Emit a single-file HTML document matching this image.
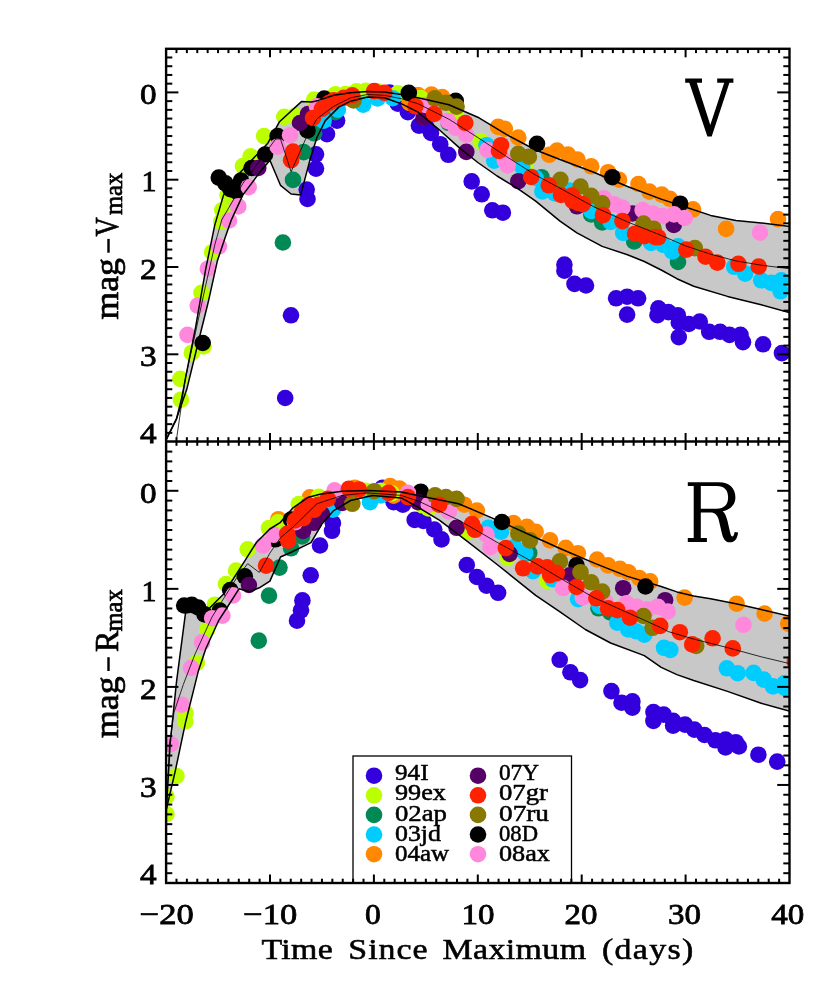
<!DOCTYPE html>
<html><head><meta charset="utf-8"><title>Light curves</title>
<style>
html,body{margin:0;padding:0;background:#fff;}
body{width:830px;height:982px;overflow:hidden;font-family:"Liberation Serif",serif;}
svg text{font-family:"Liberation Serif",serif;fill:#000;}
svg text.t{stroke:#000;stroke-width:0.5px;}
svg text.t2{stroke:#000;stroke-width:0.55px;}
svg text.n{stroke:#000;stroke-width:0.8px;}
svg text.b{stroke:#000;stroke-width:0.7px;}
</style></head><body>
<svg width="830" height="982" viewBox="0 0 830 982" style="display:block;will-change:transform">
<rect width="830" height="982" fill="#fff"/>
<defs><clipPath id="cV"><rect x="166.1" y="48.8" width="623.4" height="392.7"/></clipPath><clipPath id="cR"><rect x="166.1" y="441.5" width="623.4" height="441.5"/></clipPath></defs>
<g clip-path="url(#cV)">
<polygon points="166.4,439.2 176.5,418.8 181.6,398.5 188.0,365.4 195.6,327.2 205.8,268.7 214.7,225.4 223.6,194.9 237.1,175.7 268.0,142.9 279.5,121.7 301.7,101.4 311.8,102.0 318.5,100.4 333.7,95.3 350.6,92.8 367.5,91.6 384.3,91.9 401.2,94.5 418.0,97.8 448.9,104.7 477.8,117.2 506.7,134.6 535.7,150.0 560.0,159.5 593.7,172.2 627.5,186.5 661.2,199.1 685.3,207.0 710.6,215.4 735.9,220.5 761.2,223.0 790.0,226.6 790.0,312.8 761.2,304.8 727.5,296.4 693.7,286.2 676.9,278.7 661.2,270.0 644.3,261.5 627.5,254.8 602.2,246.4 576.9,232.9 560.0,221.1 535.7,201.1 516.4,187.6 497.1,176.0 477.8,162.5 458.6,147.1 439.3,129.8 418.0,112.2 401.2,103.7 384.3,97.8 367.5,97.0 350.6,101.2 338.8,107.1 325.3,120.6 316.9,137.5 310.1,159.4 300.7,194.9 291.1,194.0 280.5,185.3 269.9,160.2 260.2,171.8 242.9,194.9 231.3,220.0 224.9,238.2 217.3,261.1 208.3,301.8 198.2,342.5 186.7,389.6 179.1,411.2 176.5,418.8 166.4,439.2" fill="#C8C8C8"/>
<g fill="#3300DD">
<circle cx="306.7" cy="189.5" r="8.3"/>
<circle cx="307.5" cy="199.0" r="8.3"/>
<circle cx="316.0" cy="168.6" r="8.3"/>
<circle cx="316.0" cy="154.3" r="8.3"/>
<circle cx="327.0" cy="134.1" r="8.3"/>
<circle cx="337.1" cy="120.6" r="8.3"/>
<circle cx="291.0" cy="315.3" r="8.3"/>
<circle cx="285.2" cy="398.0" r="8.3"/>
<circle cx="389.4" cy="92.6" r="8.3"/>
<circle cx="397.8" cy="103.7" r="8.3"/>
<circle cx="407.9" cy="112.2" r="8.3"/>
<circle cx="418.9" cy="125.6" r="8.3"/>
<circle cx="425.8" cy="126.0" r="8.3"/>
<circle cx="431.0" cy="133.0" r="8.3"/>
<circle cx="440.2" cy="144.2" r="8.3"/>
<circle cx="448.3" cy="154.8" r="8.3"/>
<circle cx="471.7" cy="181.4" r="8.3"/>
<circle cx="481.7" cy="194.3" r="8.3"/>
<circle cx="492.3" cy="210.3" r="8.3"/>
<circle cx="502.9" cy="212.7" r="8.3"/>
<circle cx="564.4" cy="264.5" r="8.3"/>
<circle cx="564.4" cy="270.7" r="8.3"/>
<circle cx="574.5" cy="283.9" r="8.3"/>
<circle cx="586.0" cy="285.5" r="8.3"/>
<circle cx="616.1" cy="298.3" r="8.3"/>
<circle cx="627.1" cy="296.7" r="8.3"/>
<circle cx="638.1" cy="298.3" r="8.3"/>
<circle cx="627.1" cy="314.6" r="8.3"/>
<circle cx="658.4" cy="308.3" r="8.3"/>
<circle cx="657.5" cy="315.2" r="8.3"/>
<circle cx="668.4" cy="312.1" r="8.3"/>
<circle cx="677.8" cy="315.2" r="8.3"/>
<circle cx="678.8" cy="322.4" r="8.3"/>
<circle cx="688.8" cy="324.0" r="8.3"/>
<circle cx="699.8" cy="321.5" r="8.3"/>
<circle cx="678.8" cy="337.1" r="8.3"/>
<circle cx="709.2" cy="331.8" r="8.3"/>
<circle cx="720.1" cy="331.8" r="8.3"/>
<circle cx="729.5" cy="334.9" r="8.3"/>
<circle cx="740.5" cy="334.9" r="8.3"/>
<circle cx="743.0" cy="342.2" r="8.3"/>
<circle cx="763.1" cy="344.3" r="8.3"/>
<circle cx="781.9" cy="353.1" r="8.3"/>
</g>
<g fill="#FF8800">
<circle cx="418.0" cy="95.1" r="8.3"/>
<circle cx="431.5" cy="94.5" r="8.3"/>
<circle cx="442.2" cy="97.0" r="8.3"/>
<circle cx="409.5" cy="103.0" r="8.3"/>
<circle cx="498.1" cy="126.9" r="8.3"/>
<circle cx="504.8" cy="128.8" r="8.3"/>
<circle cx="518.3" cy="137.5" r="8.3"/>
<circle cx="549.2" cy="154.8" r="8.3"/>
<circle cx="557.0" cy="150.5" r="8.3"/>
<circle cx="568.0" cy="154.6" r="8.3"/>
<circle cx="577.5" cy="159.5" r="8.3"/>
<circle cx="591.2" cy="166.3" r="8.3"/>
<circle cx="608.1" cy="172.2" r="8.3"/>
<circle cx="619.0" cy="179.7" r="8.3"/>
<circle cx="638.4" cy="184.0" r="8.3"/>
<circle cx="649.4" cy="191.6" r="8.3"/>
<circle cx="661.8" cy="194.6" r="8.3"/>
<circle cx="669.9" cy="198.8" r="8.3"/>
<circle cx="693.0" cy="209.4" r="8.3"/>
<circle cx="726.1" cy="228.9" r="8.3"/>
<circle cx="778.0" cy="219.1" r="8.3"/>
</g>
<g fill="#BBFF00">
<circle cx="203.5" cy="346.5" r="8.3"/>
<circle cx="180.9" cy="399.7" r="8.3"/>
<circle cx="180.4" cy="378.9" r="8.3"/>
<circle cx="191.8" cy="352.7" r="8.3"/>
<circle cx="201.5" cy="292.9" r="8.3"/>
<circle cx="212.2" cy="252.2" r="8.3"/>
<circle cx="221.1" cy="221.6" r="8.3"/>
<circle cx="222.3" cy="210.2" r="8.3"/>
<circle cx="227.5" cy="195.0" r="8.3"/>
<circle cx="242.9" cy="166.0" r="8.3"/>
<circle cx="250.6" cy="156.4" r="8.3"/>
<circle cx="264.1" cy="136.1" r="8.3"/>
<circle cx="284.3" cy="116.9" r="8.3"/>
<circle cx="294.9" cy="115.9" r="8.3"/>
<circle cx="314.2" cy="99.5" r="8.3"/>
<circle cx="335.4" cy="94.3" r="8.3"/>
<circle cx="345.5" cy="94.0" r="8.3"/>
<circle cx="356.5" cy="91.4" r="8.3"/>
<circle cx="365.8" cy="90.9" r="8.3"/>
<circle cx="377.6" cy="91.4" r="8.3"/>
<circle cx="397.8" cy="93.4" r="8.3"/>
<circle cx="420.6" cy="98.0" r="8.3"/>
<circle cx="455.7" cy="114.3" r="8.3"/>
<circle cx="480.7" cy="141.3" r="8.3"/>
<circle cx="524.8" cy="166.5" r="8.3"/>
</g>
<g fill="#008855">
<circle cx="282.9" cy="242.5" r="8.3"/>
<circle cx="293.0" cy="179.9" r="8.3"/>
<circle cx="303.6" cy="152.1" r="8.3"/>
<circle cx="314.2" cy="133.3" r="8.3"/>
<circle cx="335.4" cy="112.2" r="8.3"/>
<circle cx="448.5" cy="122.8" r="8.3"/>
<circle cx="541.5" cy="177.2" r="8.3"/>
<circle cx="591.2" cy="214.5" r="8.3"/>
<circle cx="602.2" cy="222.5" r="8.3"/>
<circle cx="634.2" cy="241.5" r="8.3"/>
<circle cx="678.0" cy="262.0" r="8.3"/>
</g>
<g fill="#00CCFF">
<circle cx="323.6" cy="120.6" r="8.3"/>
<circle cx="337.9" cy="109.6" r="8.3"/>
<circle cx="363.2" cy="104.6" r="8.3"/>
<circle cx="377.6" cy="98.5" r="8.3"/>
<circle cx="392.7" cy="98.2" r="8.3"/>
<circle cx="486.5" cy="145.2" r="8.3"/>
<circle cx="494.2" cy="160.6" r="8.3"/>
<circle cx="522.2" cy="166.4" r="8.3"/>
<circle cx="535.7" cy="178.0" r="8.3"/>
<circle cx="542.4" cy="191.4" r="8.3"/>
<circle cx="554.9" cy="193.4" r="8.3"/>
<circle cx="569.4" cy="190.5" r="8.3"/>
<circle cx="591.2" cy="210.9" r="8.3"/>
<circle cx="610.6" cy="221.9" r="8.3"/>
<circle cx="623.2" cy="232.9" r="8.3"/>
<circle cx="651.1" cy="243.0" r="8.3"/>
<circle cx="663.2" cy="244.8" r="8.3"/>
<circle cx="672.3" cy="251.5" r="8.3"/>
<circle cx="678.0" cy="246.4" r="8.3"/>
<circle cx="734.2" cy="266.8" r="8.3"/>
<circle cx="745.2" cy="273.6" r="8.3"/>
<circle cx="761.2" cy="280.3" r="8.3"/>
<circle cx="771.3" cy="282.9" r="8.3"/>
<circle cx="781.4" cy="280.3" r="8.3"/>
<circle cx="780.6" cy="291.3" r="8.3"/>
</g>
<g fill="#000000">
<circle cx="218.8" cy="177.6" r="8.3"/>
<circle cx="225.5" cy="183.4" r="8.3"/>
<circle cx="230.4" cy="189.2" r="8.3"/>
<circle cx="236.1" cy="191.1" r="8.3"/>
<circle cx="241.0" cy="180.5" r="8.3"/>
<circle cx="251.6" cy="168.0" r="8.3"/>
<circle cx="265.0" cy="154.5" r="8.3"/>
<circle cx="277.6" cy="136.1" r="8.3"/>
<circle cx="307.5" cy="130.4" r="8.3"/>
<circle cx="324.3" cy="98.5" r="8.3"/>
<circle cx="408.8" cy="92.8" r="8.3"/>
<circle cx="455.7" cy="100.9" r="8.3"/>
<circle cx="537.0" cy="143.8" r="8.3"/>
<circle cx="612.3" cy="177.2" r="8.3"/>
<circle cx="680.2" cy="203.7" r="8.3"/>
<circle cx="202.7" cy="343.0" r="8.3"/>
</g>
<g fill="#550066">
<circle cx="258.3" cy="168.0" r="8.3"/>
<circle cx="300.0" cy="123.0" r="8.3"/>
<circle cx="308.0" cy="114.0" r="8.3"/>
<circle cx="423.5" cy="118.0" r="8.3"/>
<circle cx="466.3" cy="151.9" r="8.3"/>
<circle cx="518.3" cy="181.2" r="8.3"/>
<circle cx="577.0" cy="206.3" r="8.3"/>
<circle cx="632.5" cy="213.5" r="8.3"/>
<circle cx="673.8" cy="225.0" r="8.3"/>
</g>
<g fill="#FF88DD">
<circle cx="187.5" cy="334.9" r="8.3"/>
<circle cx="197.7" cy="305.6" r="8.3"/>
<circle cx="207.8" cy="268.7" r="8.3"/>
<circle cx="219.0" cy="246.3" r="8.3"/>
<circle cx="229.0" cy="220.5" r="8.3"/>
<circle cx="238.3" cy="206.4" r="8.3"/>
<circle cx="248.7" cy="187.2" r="8.3"/>
<circle cx="277.6" cy="146.7" r="8.3"/>
<circle cx="290.1" cy="135.2" r="8.3"/>
<circle cx="316.9" cy="106.3" r="8.3"/>
<circle cx="425.3" cy="105.0" r="8.3"/>
<circle cx="448.0" cy="121.1" r="8.3"/>
<circle cx="455.7" cy="127.8" r="8.3"/>
<circle cx="466.3" cy="134.6" r="8.3"/>
<circle cx="487.5" cy="150.0" r="8.3"/>
<circle cx="504.8" cy="160.6" r="8.3"/>
<circle cx="507.7" cy="165.4" r="8.3"/>
<circle cx="603.8" cy="198.3" r="8.3"/>
<circle cx="614.0" cy="204.2" r="8.3"/>
<circle cx="622.4" cy="207.6" r="8.3"/>
<circle cx="642.6" cy="210.1" r="8.3"/>
<circle cx="652.7" cy="213.5" r="8.3"/>
<circle cx="662.7" cy="216.1" r="8.3"/>
<circle cx="674.0" cy="214.4" r="8.3"/>
<circle cx="684.7" cy="218.0" r="8.3"/>
<circle cx="760.0" cy="232.6" r="8.3"/>
</g>
<g fill="#887700">
<circle cx="353.5" cy="100.5" r="8.3"/>
<circle cx="434.8" cy="98.3" r="8.3"/>
<circle cx="446.0" cy="102.8" r="8.3"/>
<circle cx="456.6" cy="106.6" r="8.3"/>
<circle cx="518.3" cy="153.9" r="8.3"/>
<circle cx="528.9" cy="156.7" r="8.3"/>
<circle cx="560.4" cy="179.8" r="8.3"/>
<circle cx="580.5" cy="186.5" r="8.3"/>
<circle cx="591.2" cy="195.8" r="8.3"/>
<circle cx="602.2" cy="203.4" r="8.3"/>
<circle cx="643.5" cy="223.6" r="8.3"/>
<circle cx="653.6" cy="228.7" r="8.3"/>
<circle cx="694.8" cy="248.1" r="8.3"/>
</g>
<g fill="#FF2200">
<circle cx="293.0" cy="151.6" r="8.3"/>
<circle cx="291.1" cy="160.2" r="8.3"/>
<circle cx="313.0" cy="118.0" r="8.3"/>
<circle cx="321.9" cy="108.8" r="8.3"/>
<circle cx="329.0" cy="103.0" r="8.3"/>
<circle cx="333.7" cy="100.4" r="8.3"/>
<circle cx="343.8" cy="97.8" r="8.3"/>
<circle cx="352.3" cy="95.3" r="8.3"/>
<circle cx="374.2" cy="91.1" r="8.3"/>
<circle cx="384.3" cy="92.8" r="8.3"/>
<circle cx="415.5" cy="106.3" r="8.3"/>
<circle cx="434.2" cy="114.0" r="8.3"/>
<circle cx="465.3" cy="123.0" r="8.3"/>
<circle cx="501.0" cy="145.2" r="8.3"/>
<circle cx="499.0" cy="151.0" r="8.3"/>
<circle cx="531.2" cy="177.0" r="8.3"/>
<circle cx="548.8" cy="185.3" r="8.3"/>
<circle cx="561.0" cy="195.0" r="8.3"/>
<circle cx="572.0" cy="195.5" r="8.3"/>
<circle cx="572.6" cy="200.8" r="8.3"/>
<circle cx="578.1" cy="203.0" r="8.3"/>
<circle cx="582.8" cy="204.2" r="8.3"/>
<circle cx="603.0" cy="215.2" r="8.3"/>
<circle cx="622.4" cy="221.1" r="8.3"/>
<circle cx="635.0" cy="233.7" r="8.3"/>
<circle cx="644.3" cy="236.2" r="8.3"/>
<circle cx="655.3" cy="237.1" r="8.3"/>
<circle cx="658.3" cy="237.3" r="8.3"/>
<circle cx="686.3" cy="249.6" r="8.3"/>
<circle cx="705.5" cy="256.7" r="8.3"/>
<circle cx="717.3" cy="262.6" r="8.3"/>
<circle cx="738.4" cy="263.8" r="8.3"/>
<circle cx="758.7" cy="266.5" r="8.3"/>
</g>
<polyline points="166.4,439.2 176.5,418.8 181.6,398.5 188.0,365.4 195.6,327.2 205.8,268.7 214.7,225.4 223.6,194.9 237.1,175.7 268.0,142.9 279.5,121.7 301.7,101.4 311.8,102.0 318.5,100.4 333.7,95.3 350.6,92.8 367.5,91.6 384.3,91.9 401.2,94.5 418.0,97.8 448.9,104.7 477.8,117.2 506.7,134.6 535.7,150.0 560.0,159.5 593.7,172.2 627.5,186.5 661.2,199.1 685.3,207.0 710.6,215.4 735.9,220.5 761.2,223.0 790.0,226.6" fill="none" stroke="#000" stroke-width="1.5" stroke-linejoin="round"/>
<polyline points="166.4,439.2 176.5,418.8 179.1,411.2 186.7,389.6 198.2,342.5 208.3,301.8 217.3,261.1 224.9,238.2 231.3,220.0 242.9,194.9 260.2,171.8 269.9,160.2 280.5,185.3 291.1,194.0 300.7,194.9 310.1,159.4 316.9,137.5 325.3,120.6 338.8,107.1 350.6,101.2 367.5,97.0 384.3,97.8 401.2,103.7 418.0,112.2 439.3,129.8 458.6,147.1 477.8,162.5 497.1,176.0 516.4,187.6 535.7,201.1 560.0,221.1 576.9,232.9 602.2,246.4 627.5,254.8 644.3,261.5 661.2,270.0 676.9,278.7 693.7,286.2 727.5,296.4 761.2,304.8 790.0,312.8" fill="none" stroke="#000" stroke-width="1.5" stroke-linejoin="round"/>
<polyline points="176.5,439.2 185.4,378.1 196.0,330.0 206.0,284.0 215.0,244.0 221.7,220.0 242.9,183.4 275.7,139.0 280.5,139.0 291.1,171.8 306.5,137.1 316.9,118.9 333.7,106.3 350.6,97.8 367.5,94.5 384.3,95.3 401.2,98.7 418.0,103.7 448.9,119.2 477.8,137.5 506.7,156.7 535.7,175.1 560.0,188.2 593.7,206.7 627.5,221.9 661.2,235.4 685.3,245.8 710.6,254.2 735.9,260.9 761.2,265.2 790.0,268.8" fill="none" stroke="#000" stroke-width="0.8" stroke-linejoin="round"/>
</g>
<g clip-path="url(#cR)">
<polygon points="166.4,809.0 170.2,743.0 176.5,681.8 185.5,613.1 208.4,609.3 223.6,594.0 244.8,560.8 256.4,542.5 269.9,529.0 280.5,522.3 293.0,507.8 308.4,497.2 320.0,494.3 342.2,491.2 367.5,490.4 401.2,492.0 420.0,496.0 458.6,503.7 497.1,520.1 535.7,537.5 560.0,548.5 593.7,562.9 627.5,576.4 661.2,586.5 676.9,591.9 693.7,596.1 710.6,598.7 735.9,603.7 761.2,609.6 790.0,616.3 790.0,711.3 761.2,703.2 727.5,691.4 693.7,680.5 676.9,674.6 661.2,667.4 644.3,655.6 610.6,643.0 585.3,629.5 560.0,611.8 535.7,595.3 497.1,564.5 458.6,534.6 439.3,520.1 418.0,507.2 401.2,497.9 372.5,495.4 350.6,500.5 333.7,510.6 321.9,524.1 311.0,542.6 291.1,552.2 280.5,557.0 269.9,581.1 259.3,587.8 249.6,591.7 239.0,588.8 225.5,610.0 218.6,620.7 205.8,648.7 198.2,671.6 185.5,722.6 175.3,770.9 166.4,809.1" fill="#C8C8C8"/>
<g fill="#3300DD">
<circle cx="320.0" cy="545.5" r="8.3"/>
<circle cx="310.7" cy="575.3" r="8.3"/>
<circle cx="302.4" cy="600.4" r="8.3"/>
<circle cx="301.0" cy="610.3" r="8.3"/>
<circle cx="297.0" cy="620.7" r="8.3"/>
<circle cx="332.0" cy="530.8" r="8.3"/>
<circle cx="332.9" cy="523.2" r="8.3"/>
<circle cx="382.6" cy="487.7" r="8.3"/>
<circle cx="393.6" cy="502.2" r="8.3"/>
<circle cx="402.9" cy="504.7" r="8.3"/>
<circle cx="414.7" cy="519.9" r="8.3"/>
<circle cx="423.4" cy="521.0" r="8.3"/>
<circle cx="434.3" cy="529.5" r="8.3"/>
<circle cx="441.5" cy="539.4" r="8.3"/>
<circle cx="466.8" cy="565.0" r="8.3"/>
<circle cx="476.9" cy="577.0" r="8.3"/>
<circle cx="486.5" cy="585.7" r="8.3"/>
<circle cx="498.1" cy="592.8" r="8.3"/>
<circle cx="559.7" cy="659.8" r="8.3"/>
<circle cx="570.4" cy="672.3" r="8.3"/>
<circle cx="580.1" cy="680.1" r="8.3"/>
<circle cx="611.4" cy="691.1" r="8.3"/>
<circle cx="621.5" cy="702.7" r="8.3"/>
<circle cx="632.4" cy="701.4" r="8.3"/>
<circle cx="632.4" cy="707.7" r="8.3"/>
<circle cx="653.4" cy="712.1" r="8.3"/>
<circle cx="653.4" cy="720.9" r="8.3"/>
<circle cx="663.7" cy="714.6" r="8.3"/>
<circle cx="673.1" cy="720.9" r="8.3"/>
<circle cx="673.1" cy="725.6" r="8.3"/>
<circle cx="685.0" cy="724.6" r="8.3"/>
<circle cx="694.4" cy="729.6" r="8.3"/>
<circle cx="704.5" cy="735.0" r="8.3"/>
<circle cx="715.4" cy="740.3" r="8.3"/>
<circle cx="725.5" cy="739.6" r="8.3"/>
<circle cx="725.5" cy="747.5" r="8.3"/>
<circle cx="735.8" cy="742.2" r="8.3"/>
<circle cx="738.9" cy="746.5" r="8.3"/>
<circle cx="758.4" cy="754.7" r="8.3"/>
<circle cx="777.2" cy="761.6" r="8.3"/>
</g>
<g fill="#FF8800">
<circle cx="278.4" cy="519.2" r="8.3"/>
<circle cx="309.8" cy="497.3" r="8.3"/>
<circle cx="354.8" cy="487.7" r="8.3"/>
<circle cx="390.2" cy="486.0" r="8.3"/>
<circle cx="399.5" cy="488.5" r="8.3"/>
<circle cx="393.7" cy="495.7" r="8.3"/>
<circle cx="464.3" cy="504.7" r="8.3"/>
<circle cx="476.9" cy="510.5" r="8.3"/>
<circle cx="513.5" cy="523.0" r="8.3"/>
<circle cx="527.0" cy="526.9" r="8.3"/>
<circle cx="535.7" cy="531.7" r="8.3"/>
<circle cx="550.1" cy="540.4" r="8.3"/>
<circle cx="565.7" cy="547.9" r="8.3"/>
<circle cx="577.9" cy="553.2" r="8.3"/>
<circle cx="597.1" cy="559.5" r="8.3"/>
<circle cx="608.1" cy="565.4" r="8.3"/>
<circle cx="619.9" cy="568.8" r="8.3"/>
<circle cx="628.3" cy="572.2" r="8.3"/>
<circle cx="639.3" cy="578.1" r="8.3"/>
<circle cx="650.2" cy="581.4" r="8.3"/>
<circle cx="684.6" cy="597.6" r="8.3"/>
<circle cx="736.7" cy="603.7" r="8.3"/>
<circle cx="764.6" cy="613.5" r="8.3"/>
<circle cx="788.2" cy="623.6" r="8.3"/>
</g>
<g fill="#BBFF00">
<circle cx="166.4" cy="814.2" r="8.3"/>
<circle cx="166.4" cy="796.4" r="8.3"/>
<circle cx="176.5" cy="776.0" r="8.3"/>
<circle cx="185.5" cy="713.0" r="8.3"/>
<circle cx="185.3" cy="721.5" r="8.3"/>
<circle cx="196.9" cy="662.7" r="8.3"/>
<circle cx="207.1" cy="629.6" r="8.3"/>
<circle cx="214.8" cy="604.7" r="8.3"/>
<circle cx="226.0" cy="584.0" r="8.3"/>
<circle cx="236.1" cy="570.5" r="8.3"/>
<circle cx="247.7" cy="549.3" r="8.3"/>
<circle cx="268.9" cy="528.1" r="8.3"/>
<circle cx="278.0" cy="522.4" r="8.3"/>
<circle cx="298.8" cy="504.0" r="8.3"/>
<circle cx="318.7" cy="496.9" r="8.3"/>
<circle cx="391.8" cy="493.3" r="8.3"/>
<circle cx="380.7" cy="490.8" r="8.3"/>
<circle cx="365.8" cy="490.8" r="8.3"/>
<circle cx="422.7" cy="505.3" r="8.3"/>
<circle cx="428.5" cy="508.5" r="8.3"/>
<circle cx="467.5" cy="532.0" r="8.3"/>
<circle cx="507.5" cy="558.0" r="8.3"/>
<circle cx="547.0" cy="581.0" r="8.3"/>
</g>
<g fill="#008855">
<circle cx="279.5" cy="567.6" r="8.3"/>
<circle cx="269.0" cy="595.6" r="8.3"/>
<circle cx="291.1" cy="548.3" r="8.3"/>
<circle cx="258.8" cy="640.6" r="8.3"/>
<circle cx="302.0" cy="536.5" r="8.3"/>
<circle cx="529.3" cy="553.0" r="8.3"/>
<circle cx="598.5" cy="608.3" r="8.3"/>
<circle cx="610.3" cy="612.5" r="8.3"/>
</g>
<g fill="#00CCFF">
<circle cx="332.9" cy="509.7" r="8.3"/>
<circle cx="370.0" cy="502.2" r="8.3"/>
<circle cx="380.9" cy="495.4" r="8.3"/>
<circle cx="488.4" cy="527.8" r="8.3"/>
<circle cx="501.0" cy="531.7" r="8.3"/>
<circle cx="514.5" cy="547.1" r="8.3"/>
<circle cx="525.1" cy="552.9" r="8.3"/>
<circle cx="533.0" cy="571.2" r="8.3"/>
<circle cx="552.5" cy="579.3" r="8.3"/>
<circle cx="578.1" cy="599.2" r="8.3"/>
<circle cx="599.5" cy="606.0" r="8.3"/>
<circle cx="617.3" cy="622.7" r="8.3"/>
<circle cx="628.3" cy="629.5" r="8.3"/>
<circle cx="635.9" cy="631.2" r="8.3"/>
<circle cx="644.3" cy="634.6" r="8.3"/>
<circle cx="664.0" cy="647.8" r="8.3"/>
<circle cx="670.3" cy="649.9" r="8.3"/>
<circle cx="726.9" cy="668.3" r="8.3"/>
<circle cx="737.6" cy="673.2" r="8.3"/>
<circle cx="753.6" cy="672.9" r="8.3"/>
<circle cx="763.7" cy="679.6" r="8.3"/>
<circle cx="773.0" cy="686.4" r="8.3"/>
<circle cx="784.8" cy="683.0" r="8.3"/>
<circle cx="784.8" cy="688.0" r="8.3"/>
</g>
<g fill="#000000">
<circle cx="184.2" cy="605.5" r="8.3"/>
<circle cx="191.8" cy="604.9" r="8.3"/>
<circle cx="198.2" cy="607.5" r="8.3"/>
<circle cx="204.6" cy="614.4" r="8.3"/>
<circle cx="219.8" cy="610.5" r="8.3"/>
<circle cx="230.2" cy="590.0" r="8.3"/>
<circle cx="244.8" cy="576.3" r="8.3"/>
<circle cx="291.0" cy="519.5" r="8.3"/>
<circle cx="275.5" cy="539.3" r="8.3"/>
<circle cx="420.8" cy="491.7" r="8.3"/>
<circle cx="501.9" cy="522.0" r="8.3"/>
<circle cx="576.5" cy="565.4" r="8.3"/>
<circle cx="645.5" cy="586.5" r="8.3"/>
</g>
<g fill="#550066">
<circle cx="248.9" cy="585.0" r="8.3"/>
<circle cx="303.0" cy="531.0" r="8.3"/>
<circle cx="313.8" cy="522.8" r="8.3"/>
<circle cx="321.9" cy="514.0" r="8.3"/>
<circle cx="342.2" cy="503.0" r="8.3"/>
<circle cx="418.0" cy="502.2" r="8.3"/>
<circle cx="456.6" cy="527.8" r="8.3"/>
<circle cx="509.6" cy="553.9" r="8.3"/>
<circle cx="569.8" cy="575.3" r="8.3"/>
<circle cx="623.2" cy="588.2" r="8.3"/>
<circle cx="665.1" cy="600.2" r="8.3"/>
</g>
<g fill="#FF88DD">
<circle cx="170.7" cy="744.2" r="8.3"/>
<circle cx="181.6" cy="704.7" r="8.3"/>
<circle cx="191.1" cy="667.8" r="8.3"/>
<circle cx="202.0" cy="642.4" r="8.3"/>
<circle cx="212.2" cy="618.2" r="8.3"/>
<circle cx="222.4" cy="615.6" r="8.3"/>
<circle cx="233.0" cy="595.4" r="8.3"/>
<circle cx="263.1" cy="545.4" r="8.3"/>
<circle cx="273.7" cy="534.8" r="8.3"/>
<circle cx="294.9" cy="522.3" r="8.3"/>
<circle cx="334.6" cy="490.4" r="8.3"/>
<circle cx="407.9" cy="492.9" r="8.3"/>
<circle cx="428.8" cy="504.7" r="8.3"/>
<circle cx="448.9" cy="511.4" r="8.3"/>
<circle cx="486.5" cy="534.6" r="8.3"/>
<circle cx="490.4" cy="547.1" r="8.3"/>
<circle cx="563.0" cy="587.9" r="8.3"/>
<circle cx="582.8" cy="597.5" r="8.3"/>
<circle cx="605.5" cy="601.7" r="8.3"/>
<circle cx="626.6" cy="603.4" r="8.3"/>
<circle cx="636.7" cy="606.7" r="8.3"/>
<circle cx="647.7" cy="609.3" r="8.3"/>
<circle cx="657.8" cy="606.7" r="8.3"/>
<circle cx="667.7" cy="611.5" r="8.3"/>
<circle cx="743.5" cy="624.8" r="8.3"/>
</g>
<g fill="#887700">
<circle cx="352.3" cy="503.8" r="8.3"/>
<circle cx="374.2" cy="491.2" r="8.3"/>
<circle cx="435.1" cy="495.3" r="8.3"/>
<circle cx="446.0" cy="497.0" r="8.3"/>
<circle cx="456.6" cy="498.9" r="8.3"/>
<circle cx="518.3" cy="533.6" r="8.3"/>
<circle cx="529.9" cy="540.4" r="8.3"/>
<circle cx="559.9" cy="561.4" r="8.3"/>
<circle cx="580.5" cy="572.2" r="8.3"/>
<circle cx="591.2" cy="582.3" r="8.3"/>
<circle cx="602.2" cy="591.6" r="8.3"/>
<circle cx="643.5" cy="616.0" r="8.3"/>
<circle cx="652.7" cy="627.8" r="8.3"/>
<circle cx="696.2" cy="646.0" r="8.3"/>
</g>
<g fill="#FF2200">
<circle cx="266.0" cy="565.7" r="8.3"/>
<circle cx="288.2" cy="540.6" r="8.3"/>
<circle cx="287.2" cy="533.9" r="8.3"/>
<circle cx="298.8" cy="517.5" r="8.3"/>
<circle cx="295.0" cy="520.5" r="8.3"/>
<circle cx="308.4" cy="505.2" r="8.3"/>
<circle cx="314.2" cy="509.8" r="8.3"/>
<circle cx="301.7" cy="512.3" r="8.3"/>
<circle cx="318.5" cy="504.7" r="8.3"/>
<circle cx="327.8" cy="498.8" r="8.3"/>
<circle cx="348.9" cy="488.7" r="8.3"/>
<circle cx="359.0" cy="489.5" r="8.3"/>
<circle cx="388.5" cy="492.9" r="8.3"/>
<circle cx="407.9" cy="497.1" r="8.3"/>
<circle cx="439.2" cy="504.7" r="8.3"/>
<circle cx="303.4" cy="518.2" r="8.3"/>
<circle cx="472.0" cy="524.0" r="8.3"/>
<circle cx="474.9" cy="529.8" r="8.3"/>
<circle cx="505.8" cy="548.1" r="8.3"/>
<circle cx="523.1" cy="568.3" r="8.3"/>
<circle cx="537.6" cy="566.4" r="8.3"/>
<circle cx="547.2" cy="567.3" r="8.3"/>
<circle cx="556.9" cy="573.1" r="8.3"/>
<circle cx="550.1" cy="575.1" r="8.3"/>
<circle cx="576.5" cy="587.0" r="8.3"/>
<circle cx="596.3" cy="598.3" r="8.3"/>
<circle cx="608.1" cy="608.4" r="8.3"/>
<circle cx="617.3" cy="610.1" r="8.3"/>
<circle cx="630.0" cy="617.7" r="8.3"/>
<circle cx="660.2" cy="625.9" r="8.3"/>
<circle cx="679.8" cy="632.2" r="8.3"/>
<circle cx="692.2" cy="644.4" r="8.3"/>
<circle cx="712.6" cy="638.3" r="8.3"/>
<circle cx="732.8" cy="648.4" r="8.3"/>
<circle cx="794.8" cy="661.9" r="8.3"/>
</g>
<polyline points="166.4,809.0 170.2,743.0 176.5,681.8 185.5,613.1 208.4,609.3 223.6,594.0 244.8,560.8 256.4,542.5 269.9,529.0 280.5,522.3 293.0,507.8 308.4,497.2 320.0,494.3 342.2,491.2 367.5,490.4 401.2,492.0 420.0,496.0 458.6,503.7 497.1,520.1 535.7,537.5 560.0,548.5 593.7,562.9 627.5,576.4 661.2,586.5 676.9,591.9 693.7,596.1 710.6,598.7 735.9,603.7 761.2,609.6 790.0,616.3" fill="none" stroke="#000" stroke-width="1.5" stroke-linejoin="round"/>
<polyline points="166.4,809.1 175.3,770.9 185.5,722.6 198.2,671.6 205.8,648.7 218.6,620.7 225.5,610.0 239.0,588.8 249.6,591.7 259.3,587.8 269.9,581.1 280.5,557.0 291.1,552.2 311.0,542.6 321.9,524.1 333.7,510.6 350.6,500.5 372.5,495.4 401.2,497.9 418.0,507.2 439.3,520.1 458.6,534.6 497.1,564.5 535.7,595.3 560.0,611.8 585.3,629.5 610.6,643.0 644.3,655.6 661.2,667.4 676.9,674.6 693.7,680.5 727.5,691.4 761.2,703.2 790.0,711.3" fill="none" stroke="#000" stroke-width="1.5" stroke-linejoin="round"/>
<polyline points="166.4,809.0 169.4,745.2 174.0,712.4 183.4,684.3 195.1,653.9 212.0,617.0 237.1,577.2 247.7,563.7 259.3,572.4 269.9,553.1 280.5,537.7 293.0,527.1 316.9,503.8 342.2,495.4 367.5,492.9 401.2,495.4 420.0,501.8 458.6,520.1 497.1,542.3 535.7,563.5 560.0,578.1 593.7,597.5 627.5,612.6 661.2,627.8 668.4,631.6 693.7,639.1 727.5,647.6 761.2,656.8 790.0,663.7" fill="none" stroke="#000" stroke-width="0.8" stroke-linejoin="round"/>
</g>
<rect x="353.0" y="756.0" width="218.5" height="127.0" fill="#fff" stroke="#000" stroke-width="1.3"/>
<circle cx="374.0" cy="775.7" r="8.3" fill="#3300DD"/>
<text x="395.0" y="780.0" font-size="22.2" textLength="33.5" lengthAdjust="spacingAndGlyphs" class="t">94I</text>
<circle cx="374.0" cy="795.3" r="8.3" fill="#BBFF00"/>
<text x="395.0" y="800.0" font-size="22.2" textLength="51.0" lengthAdjust="spacingAndGlyphs" class="t">99ex</text>
<circle cx="374.0" cy="814.9" r="8.3" fill="#008855"/>
<text x="395.0" y="820.6" font-size="22.2" textLength="52.0" lengthAdjust="spacingAndGlyphs" class="t">02ap</text>
<circle cx="374.0" cy="834.5" r="8.3" fill="#00CCFF"/>
<text x="395.0" y="840.8" font-size="22.2" textLength="46.0" lengthAdjust="spacingAndGlyphs" class="t">03jd</text>
<circle cx="374.0" cy="854.2" r="8.3" fill="#FF8800"/>
<text x="395.0" y="861.3" font-size="22.2" textLength="54.0" lengthAdjust="spacingAndGlyphs" class="t">04aw</text>
<circle cx="478.0" cy="775.7" r="8.3" fill="#550066"/>
<text x="499.0" y="780.0" font-size="22.2" textLength="40.0" lengthAdjust="spacingAndGlyphs" class="t">07Y</text>
<circle cx="478.0" cy="795.3" r="8.3" fill="#FF2200"/>
<text x="499.0" y="800.0" font-size="22.2" textLength="49.0" lengthAdjust="spacingAndGlyphs" class="t">07gr</text>
<circle cx="478.0" cy="814.9" r="8.3" fill="#887700"/>
<text x="499.0" y="820.6" font-size="22.2" textLength="50.0" lengthAdjust="spacingAndGlyphs" class="t">07ru</text>
<circle cx="478.0" cy="834.5" r="8.3" fill="#000000"/>
<text x="499.0" y="840.8" font-size="22.2" textLength="39.0" lengthAdjust="spacingAndGlyphs" class="t">08D</text>
<circle cx="478.0" cy="854.2" r="8.3" fill="#FF88DD"/>
<text x="499.0" y="861.3" font-size="22.2" textLength="51.0" lengthAdjust="spacingAndGlyphs" class="t">08ax</text>
<g stroke="#000" stroke-width="2.4" fill="none" stroke-linecap="butt">
<rect x="166.1" y="48.8" width="623.4" height="834.2"/>
<line x1="166.1" y1="441.5" x2="789.5" y2="441.5"/>
</g>
<g stroke="#000" stroke-width="2.0">
<line x1="176.49" y1="48.8" x2="176.49" y2="53.1"/>
<line x1="176.49" y1="437.2" x2="176.49" y2="445.8"/>
<line x1="176.49" y1="878.7" x2="176.49" y2="883.0"/>
<line x1="186.88" y1="48.8" x2="186.88" y2="53.1"/>
<line x1="186.88" y1="437.2" x2="186.88" y2="445.8"/>
<line x1="186.88" y1="878.7" x2="186.88" y2="883.0"/>
<line x1="197.27" y1="48.8" x2="197.27" y2="53.1"/>
<line x1="197.27" y1="437.2" x2="197.27" y2="445.8"/>
<line x1="197.27" y1="878.7" x2="197.27" y2="883.0"/>
<line x1="207.66" y1="48.8" x2="207.66" y2="53.1"/>
<line x1="207.66" y1="437.2" x2="207.66" y2="445.8"/>
<line x1="207.66" y1="878.7" x2="207.66" y2="883.0"/>
<line x1="218.05" y1="48.8" x2="218.05" y2="53.1"/>
<line x1="218.05" y1="437.2" x2="218.05" y2="445.8"/>
<line x1="218.05" y1="878.7" x2="218.05" y2="883.0"/>
<line x1="228.44" y1="48.8" x2="228.44" y2="53.1"/>
<line x1="228.44" y1="437.2" x2="228.44" y2="445.8"/>
<line x1="228.44" y1="878.7" x2="228.44" y2="883.0"/>
<line x1="238.83" y1="48.8" x2="238.83" y2="53.1"/>
<line x1="238.83" y1="437.2" x2="238.83" y2="445.8"/>
<line x1="238.83" y1="878.7" x2="238.83" y2="883.0"/>
<line x1="249.22" y1="48.8" x2="249.22" y2="53.1"/>
<line x1="249.22" y1="437.2" x2="249.22" y2="445.8"/>
<line x1="249.22" y1="878.7" x2="249.22" y2="883.0"/>
<line x1="259.61" y1="48.8" x2="259.61" y2="53.1"/>
<line x1="259.61" y1="437.2" x2="259.61" y2="445.8"/>
<line x1="259.61" y1="878.7" x2="259.61" y2="883.0"/>
<line x1="270.00" y1="48.8" x2="270.00" y2="57.3"/>
<line x1="270.00" y1="433.0" x2="270.00" y2="450.0"/>
<line x1="270.00" y1="874.5" x2="270.00" y2="883.0"/>
<line x1="280.39" y1="48.8" x2="280.39" y2="53.1"/>
<line x1="280.39" y1="437.2" x2="280.39" y2="445.8"/>
<line x1="280.39" y1="878.7" x2="280.39" y2="883.0"/>
<line x1="290.78" y1="48.8" x2="290.78" y2="53.1"/>
<line x1="290.78" y1="437.2" x2="290.78" y2="445.8"/>
<line x1="290.78" y1="878.7" x2="290.78" y2="883.0"/>
<line x1="301.17" y1="48.8" x2="301.17" y2="53.1"/>
<line x1="301.17" y1="437.2" x2="301.17" y2="445.8"/>
<line x1="301.17" y1="878.7" x2="301.17" y2="883.0"/>
<line x1="311.56" y1="48.8" x2="311.56" y2="53.1"/>
<line x1="311.56" y1="437.2" x2="311.56" y2="445.8"/>
<line x1="311.56" y1="878.7" x2="311.56" y2="883.0"/>
<line x1="321.95" y1="48.8" x2="321.95" y2="53.1"/>
<line x1="321.95" y1="437.2" x2="321.95" y2="445.8"/>
<line x1="321.95" y1="878.7" x2="321.95" y2="883.0"/>
<line x1="332.34" y1="48.8" x2="332.34" y2="53.1"/>
<line x1="332.34" y1="437.2" x2="332.34" y2="445.8"/>
<line x1="332.34" y1="878.7" x2="332.34" y2="883.0"/>
<line x1="342.73" y1="48.8" x2="342.73" y2="53.1"/>
<line x1="342.73" y1="437.2" x2="342.73" y2="445.8"/>
<line x1="342.73" y1="878.7" x2="342.73" y2="883.0"/>
<line x1="353.12" y1="48.8" x2="353.12" y2="53.1"/>
<line x1="353.12" y1="437.2" x2="353.12" y2="445.8"/>
<line x1="353.12" y1="878.7" x2="353.12" y2="883.0"/>
<line x1="363.51" y1="48.8" x2="363.51" y2="53.1"/>
<line x1="363.51" y1="437.2" x2="363.51" y2="445.8"/>
<line x1="363.51" y1="878.7" x2="363.51" y2="883.0"/>
<line x1="373.90" y1="48.8" x2="373.90" y2="57.3"/>
<line x1="373.90" y1="433.0" x2="373.90" y2="450.0"/>
<line x1="373.90" y1="874.5" x2="373.90" y2="883.0"/>
<line x1="384.29" y1="48.8" x2="384.29" y2="53.1"/>
<line x1="384.29" y1="437.2" x2="384.29" y2="445.8"/>
<line x1="384.29" y1="878.7" x2="384.29" y2="883.0"/>
<line x1="394.68" y1="48.8" x2="394.68" y2="53.1"/>
<line x1="394.68" y1="437.2" x2="394.68" y2="445.8"/>
<line x1="394.68" y1="878.7" x2="394.68" y2="883.0"/>
<line x1="405.07" y1="48.8" x2="405.07" y2="53.1"/>
<line x1="405.07" y1="437.2" x2="405.07" y2="445.8"/>
<line x1="405.07" y1="878.7" x2="405.07" y2="883.0"/>
<line x1="415.46" y1="48.8" x2="415.46" y2="53.1"/>
<line x1="415.46" y1="437.2" x2="415.46" y2="445.8"/>
<line x1="415.46" y1="878.7" x2="415.46" y2="883.0"/>
<line x1="425.85" y1="48.8" x2="425.85" y2="53.1"/>
<line x1="425.85" y1="437.2" x2="425.85" y2="445.8"/>
<line x1="425.85" y1="878.7" x2="425.85" y2="883.0"/>
<line x1="436.24" y1="48.8" x2="436.24" y2="53.1"/>
<line x1="436.24" y1="437.2" x2="436.24" y2="445.8"/>
<line x1="436.24" y1="878.7" x2="436.24" y2="883.0"/>
<line x1="446.63" y1="48.8" x2="446.63" y2="53.1"/>
<line x1="446.63" y1="437.2" x2="446.63" y2="445.8"/>
<line x1="446.63" y1="878.7" x2="446.63" y2="883.0"/>
<line x1="457.02" y1="48.8" x2="457.02" y2="53.1"/>
<line x1="457.02" y1="437.2" x2="457.02" y2="445.8"/>
<line x1="457.02" y1="878.7" x2="457.02" y2="883.0"/>
<line x1="467.41" y1="48.8" x2="467.41" y2="53.1"/>
<line x1="467.41" y1="437.2" x2="467.41" y2="445.8"/>
<line x1="467.41" y1="878.7" x2="467.41" y2="883.0"/>
<line x1="477.80" y1="48.8" x2="477.80" y2="57.3"/>
<line x1="477.80" y1="433.0" x2="477.80" y2="450.0"/>
<line x1="477.80" y1="874.5" x2="477.80" y2="883.0"/>
<line x1="488.19" y1="48.8" x2="488.19" y2="53.1"/>
<line x1="488.19" y1="437.2" x2="488.19" y2="445.8"/>
<line x1="488.19" y1="878.7" x2="488.19" y2="883.0"/>
<line x1="498.58" y1="48.8" x2="498.58" y2="53.1"/>
<line x1="498.58" y1="437.2" x2="498.58" y2="445.8"/>
<line x1="498.58" y1="878.7" x2="498.58" y2="883.0"/>
<line x1="508.97" y1="48.8" x2="508.97" y2="53.1"/>
<line x1="508.97" y1="437.2" x2="508.97" y2="445.8"/>
<line x1="508.97" y1="878.7" x2="508.97" y2="883.0"/>
<line x1="519.36" y1="48.8" x2="519.36" y2="53.1"/>
<line x1="519.36" y1="437.2" x2="519.36" y2="445.8"/>
<line x1="519.36" y1="878.7" x2="519.36" y2="883.0"/>
<line x1="529.75" y1="48.8" x2="529.75" y2="53.1"/>
<line x1="529.75" y1="437.2" x2="529.75" y2="445.8"/>
<line x1="529.75" y1="878.7" x2="529.75" y2="883.0"/>
<line x1="540.14" y1="48.8" x2="540.14" y2="53.1"/>
<line x1="540.14" y1="437.2" x2="540.14" y2="445.8"/>
<line x1="540.14" y1="878.7" x2="540.14" y2="883.0"/>
<line x1="550.53" y1="48.8" x2="550.53" y2="53.1"/>
<line x1="550.53" y1="437.2" x2="550.53" y2="445.8"/>
<line x1="550.53" y1="878.7" x2="550.53" y2="883.0"/>
<line x1="560.92" y1="48.8" x2="560.92" y2="53.1"/>
<line x1="560.92" y1="437.2" x2="560.92" y2="445.8"/>
<line x1="560.92" y1="878.7" x2="560.92" y2="883.0"/>
<line x1="571.31" y1="48.8" x2="571.31" y2="53.1"/>
<line x1="571.31" y1="437.2" x2="571.31" y2="445.8"/>
<line x1="571.31" y1="878.7" x2="571.31" y2="883.0"/>
<line x1="581.70" y1="48.8" x2="581.70" y2="57.3"/>
<line x1="581.70" y1="433.0" x2="581.70" y2="450.0"/>
<line x1="581.70" y1="874.5" x2="581.70" y2="883.0"/>
<line x1="592.09" y1="48.8" x2="592.09" y2="53.1"/>
<line x1="592.09" y1="437.2" x2="592.09" y2="445.8"/>
<line x1="592.09" y1="878.7" x2="592.09" y2="883.0"/>
<line x1="602.48" y1="48.8" x2="602.48" y2="53.1"/>
<line x1="602.48" y1="437.2" x2="602.48" y2="445.8"/>
<line x1="602.48" y1="878.7" x2="602.48" y2="883.0"/>
<line x1="612.87" y1="48.8" x2="612.87" y2="53.1"/>
<line x1="612.87" y1="437.2" x2="612.87" y2="445.8"/>
<line x1="612.87" y1="878.7" x2="612.87" y2="883.0"/>
<line x1="623.26" y1="48.8" x2="623.26" y2="53.1"/>
<line x1="623.26" y1="437.2" x2="623.26" y2="445.8"/>
<line x1="623.26" y1="878.7" x2="623.26" y2="883.0"/>
<line x1="633.65" y1="48.8" x2="633.65" y2="53.1"/>
<line x1="633.65" y1="437.2" x2="633.65" y2="445.8"/>
<line x1="633.65" y1="878.7" x2="633.65" y2="883.0"/>
<line x1="644.04" y1="48.8" x2="644.04" y2="53.1"/>
<line x1="644.04" y1="437.2" x2="644.04" y2="445.8"/>
<line x1="644.04" y1="878.7" x2="644.04" y2="883.0"/>
<line x1="654.43" y1="48.8" x2="654.43" y2="53.1"/>
<line x1="654.43" y1="437.2" x2="654.43" y2="445.8"/>
<line x1="654.43" y1="878.7" x2="654.43" y2="883.0"/>
<line x1="664.82" y1="48.8" x2="664.82" y2="53.1"/>
<line x1="664.82" y1="437.2" x2="664.82" y2="445.8"/>
<line x1="664.82" y1="878.7" x2="664.82" y2="883.0"/>
<line x1="675.21" y1="48.8" x2="675.21" y2="53.1"/>
<line x1="675.21" y1="437.2" x2="675.21" y2="445.8"/>
<line x1="675.21" y1="878.7" x2="675.21" y2="883.0"/>
<line x1="685.60" y1="48.8" x2="685.60" y2="57.3"/>
<line x1="685.60" y1="433.0" x2="685.60" y2="450.0"/>
<line x1="685.60" y1="874.5" x2="685.60" y2="883.0"/>
<line x1="695.99" y1="48.8" x2="695.99" y2="53.1"/>
<line x1="695.99" y1="437.2" x2="695.99" y2="445.8"/>
<line x1="695.99" y1="878.7" x2="695.99" y2="883.0"/>
<line x1="706.38" y1="48.8" x2="706.38" y2="53.1"/>
<line x1="706.38" y1="437.2" x2="706.38" y2="445.8"/>
<line x1="706.38" y1="878.7" x2="706.38" y2="883.0"/>
<line x1="716.77" y1="48.8" x2="716.77" y2="53.1"/>
<line x1="716.77" y1="437.2" x2="716.77" y2="445.8"/>
<line x1="716.77" y1="878.7" x2="716.77" y2="883.0"/>
<line x1="727.16" y1="48.8" x2="727.16" y2="53.1"/>
<line x1="727.16" y1="437.2" x2="727.16" y2="445.8"/>
<line x1="727.16" y1="878.7" x2="727.16" y2="883.0"/>
<line x1="737.55" y1="48.8" x2="737.55" y2="53.1"/>
<line x1="737.55" y1="437.2" x2="737.55" y2="445.8"/>
<line x1="737.55" y1="878.7" x2="737.55" y2="883.0"/>
<line x1="747.94" y1="48.8" x2="747.94" y2="53.1"/>
<line x1="747.94" y1="437.2" x2="747.94" y2="445.8"/>
<line x1="747.94" y1="878.7" x2="747.94" y2="883.0"/>
<line x1="758.33" y1="48.8" x2="758.33" y2="53.1"/>
<line x1="758.33" y1="437.2" x2="758.33" y2="445.8"/>
<line x1="758.33" y1="878.7" x2="758.33" y2="883.0"/>
<line x1="768.72" y1="48.8" x2="768.72" y2="53.1"/>
<line x1="768.72" y1="437.2" x2="768.72" y2="445.8"/>
<line x1="768.72" y1="878.7" x2="768.72" y2="883.0"/>
<line x1="779.11" y1="48.8" x2="779.11" y2="53.1"/>
<line x1="779.11" y1="437.2" x2="779.11" y2="445.8"/>
<line x1="779.11" y1="878.7" x2="779.11" y2="883.0"/>
<line x1="166.1" y1="57.48" x2="172.3" y2="57.48"/>
<line x1="783.3" y1="57.48" x2="789.5" y2="57.48"/>
<line x1="166.1" y1="451.58" x2="172.3" y2="451.58"/>
<line x1="783.3" y1="451.58" x2="789.5" y2="451.58"/>
<line x1="166.1" y1="66.21" x2="172.3" y2="66.21"/>
<line x1="783.3" y1="66.21" x2="789.5" y2="66.21"/>
<line x1="166.1" y1="461.38" x2="172.3" y2="461.38"/>
<line x1="783.3" y1="461.38" x2="789.5" y2="461.38"/>
<line x1="166.1" y1="74.94" x2="172.3" y2="74.94"/>
<line x1="783.3" y1="74.94" x2="789.5" y2="74.94"/>
<line x1="166.1" y1="471.19" x2="172.3" y2="471.19"/>
<line x1="783.3" y1="471.19" x2="789.5" y2="471.19"/>
<line x1="166.1" y1="83.67" x2="172.3" y2="83.67"/>
<line x1="783.3" y1="83.67" x2="789.5" y2="83.67"/>
<line x1="166.1" y1="481.00" x2="172.3" y2="481.00"/>
<line x1="783.3" y1="481.00" x2="789.5" y2="481.00"/>
<line x1="166.1" y1="92.40" x2="178.4" y2="92.40"/>
<line x1="777.2" y1="92.40" x2="789.5" y2="92.40"/>
<line x1="166.1" y1="490.80" x2="178.4" y2="490.80"/>
<line x1="777.2" y1="490.80" x2="789.5" y2="490.80"/>
<line x1="166.1" y1="101.13" x2="172.3" y2="101.13"/>
<line x1="783.3" y1="101.13" x2="789.5" y2="101.13"/>
<line x1="166.1" y1="500.61" x2="172.3" y2="500.61"/>
<line x1="783.3" y1="500.61" x2="789.5" y2="500.61"/>
<line x1="166.1" y1="109.86" x2="172.3" y2="109.86"/>
<line x1="783.3" y1="109.86" x2="789.5" y2="109.86"/>
<line x1="166.1" y1="510.41" x2="172.3" y2="510.41"/>
<line x1="783.3" y1="510.41" x2="789.5" y2="510.41"/>
<line x1="166.1" y1="118.59" x2="172.3" y2="118.59"/>
<line x1="783.3" y1="118.59" x2="789.5" y2="118.59"/>
<line x1="166.1" y1="520.22" x2="172.3" y2="520.22"/>
<line x1="783.3" y1="520.22" x2="789.5" y2="520.22"/>
<line x1="166.1" y1="127.32" x2="172.3" y2="127.32"/>
<line x1="783.3" y1="127.32" x2="789.5" y2="127.32"/>
<line x1="166.1" y1="530.02" x2="172.3" y2="530.02"/>
<line x1="783.3" y1="530.02" x2="789.5" y2="530.02"/>
<line x1="166.1" y1="136.05" x2="172.3" y2="136.05"/>
<line x1="783.3" y1="136.05" x2="789.5" y2="136.05"/>
<line x1="166.1" y1="539.83" x2="172.3" y2="539.83"/>
<line x1="783.3" y1="539.83" x2="789.5" y2="539.83"/>
<line x1="166.1" y1="144.78" x2="172.3" y2="144.78"/>
<line x1="783.3" y1="144.78" x2="789.5" y2="144.78"/>
<line x1="166.1" y1="549.63" x2="172.3" y2="549.63"/>
<line x1="783.3" y1="549.63" x2="789.5" y2="549.63"/>
<line x1="166.1" y1="153.51" x2="172.3" y2="153.51"/>
<line x1="783.3" y1="153.51" x2="789.5" y2="153.51"/>
<line x1="166.1" y1="559.43" x2="172.3" y2="559.43"/>
<line x1="783.3" y1="559.43" x2="789.5" y2="559.43"/>
<line x1="166.1" y1="162.24" x2="172.3" y2="162.24"/>
<line x1="783.3" y1="162.24" x2="789.5" y2="162.24"/>
<line x1="166.1" y1="569.24" x2="172.3" y2="569.24"/>
<line x1="783.3" y1="569.24" x2="789.5" y2="569.24"/>
<line x1="166.1" y1="170.97" x2="172.3" y2="170.97"/>
<line x1="783.3" y1="170.97" x2="789.5" y2="170.97"/>
<line x1="166.1" y1="579.05" x2="172.3" y2="579.05"/>
<line x1="783.3" y1="579.05" x2="789.5" y2="579.05"/>
<line x1="166.1" y1="179.70" x2="178.4" y2="179.70"/>
<line x1="777.2" y1="179.70" x2="789.5" y2="179.70"/>
<line x1="166.1" y1="588.85" x2="178.4" y2="588.85"/>
<line x1="777.2" y1="588.85" x2="789.5" y2="588.85"/>
<line x1="166.1" y1="188.43" x2="172.3" y2="188.43"/>
<line x1="783.3" y1="188.43" x2="789.5" y2="188.43"/>
<line x1="166.1" y1="598.65" x2="172.3" y2="598.65"/>
<line x1="783.3" y1="598.65" x2="789.5" y2="598.65"/>
<line x1="166.1" y1="197.16" x2="172.3" y2="197.16"/>
<line x1="783.3" y1="197.16" x2="789.5" y2="197.16"/>
<line x1="166.1" y1="608.46" x2="172.3" y2="608.46"/>
<line x1="783.3" y1="608.46" x2="789.5" y2="608.46"/>
<line x1="166.1" y1="205.89" x2="172.3" y2="205.89"/>
<line x1="783.3" y1="205.89" x2="789.5" y2="205.89"/>
<line x1="166.1" y1="618.26" x2="172.3" y2="618.26"/>
<line x1="783.3" y1="618.26" x2="789.5" y2="618.26"/>
<line x1="166.1" y1="214.62" x2="172.3" y2="214.62"/>
<line x1="783.3" y1="214.62" x2="789.5" y2="214.62"/>
<line x1="166.1" y1="628.07" x2="172.3" y2="628.07"/>
<line x1="783.3" y1="628.07" x2="789.5" y2="628.07"/>
<line x1="166.1" y1="223.35" x2="172.3" y2="223.35"/>
<line x1="783.3" y1="223.35" x2="789.5" y2="223.35"/>
<line x1="166.1" y1="637.88" x2="172.3" y2="637.88"/>
<line x1="783.3" y1="637.88" x2="789.5" y2="637.88"/>
<line x1="166.1" y1="232.08" x2="172.3" y2="232.08"/>
<line x1="783.3" y1="232.08" x2="789.5" y2="232.08"/>
<line x1="166.1" y1="647.68" x2="172.3" y2="647.68"/>
<line x1="783.3" y1="647.68" x2="789.5" y2="647.68"/>
<line x1="166.1" y1="240.81" x2="172.3" y2="240.81"/>
<line x1="783.3" y1="240.81" x2="789.5" y2="240.81"/>
<line x1="166.1" y1="657.49" x2="172.3" y2="657.49"/>
<line x1="783.3" y1="657.49" x2="789.5" y2="657.49"/>
<line x1="166.1" y1="249.54" x2="172.3" y2="249.54"/>
<line x1="783.3" y1="249.54" x2="789.5" y2="249.54"/>
<line x1="166.1" y1="667.29" x2="172.3" y2="667.29"/>
<line x1="783.3" y1="667.29" x2="789.5" y2="667.29"/>
<line x1="166.1" y1="258.27" x2="172.3" y2="258.27"/>
<line x1="783.3" y1="258.27" x2="789.5" y2="258.27"/>
<line x1="166.1" y1="677.10" x2="172.3" y2="677.10"/>
<line x1="783.3" y1="677.10" x2="789.5" y2="677.10"/>
<line x1="166.1" y1="267.00" x2="178.4" y2="267.00"/>
<line x1="777.2" y1="267.00" x2="789.5" y2="267.00"/>
<line x1="166.1" y1="686.90" x2="178.4" y2="686.90"/>
<line x1="777.2" y1="686.90" x2="789.5" y2="686.90"/>
<line x1="166.1" y1="275.73" x2="172.3" y2="275.73"/>
<line x1="783.3" y1="275.73" x2="789.5" y2="275.73"/>
<line x1="166.1" y1="696.71" x2="172.3" y2="696.71"/>
<line x1="783.3" y1="696.71" x2="789.5" y2="696.71"/>
<line x1="166.1" y1="284.46" x2="172.3" y2="284.46"/>
<line x1="783.3" y1="284.46" x2="789.5" y2="284.46"/>
<line x1="166.1" y1="706.51" x2="172.3" y2="706.51"/>
<line x1="783.3" y1="706.51" x2="789.5" y2="706.51"/>
<line x1="166.1" y1="293.19" x2="172.3" y2="293.19"/>
<line x1="783.3" y1="293.19" x2="789.5" y2="293.19"/>
<line x1="166.1" y1="716.32" x2="172.3" y2="716.32"/>
<line x1="783.3" y1="716.32" x2="789.5" y2="716.32"/>
<line x1="166.1" y1="301.92" x2="172.3" y2="301.92"/>
<line x1="783.3" y1="301.92" x2="789.5" y2="301.92"/>
<line x1="166.1" y1="726.12" x2="172.3" y2="726.12"/>
<line x1="783.3" y1="726.12" x2="789.5" y2="726.12"/>
<line x1="166.1" y1="310.65" x2="172.3" y2="310.65"/>
<line x1="783.3" y1="310.65" x2="789.5" y2="310.65"/>
<line x1="166.1" y1="735.92" x2="172.3" y2="735.92"/>
<line x1="783.3" y1="735.92" x2="789.5" y2="735.92"/>
<line x1="166.1" y1="319.38" x2="172.3" y2="319.38"/>
<line x1="783.3" y1="319.38" x2="789.5" y2="319.38"/>
<line x1="166.1" y1="745.73" x2="172.3" y2="745.73"/>
<line x1="783.3" y1="745.73" x2="789.5" y2="745.73"/>
<line x1="166.1" y1="328.11" x2="172.3" y2="328.11"/>
<line x1="783.3" y1="328.11" x2="789.5" y2="328.11"/>
<line x1="166.1" y1="755.54" x2="172.3" y2="755.54"/>
<line x1="783.3" y1="755.54" x2="789.5" y2="755.54"/>
<line x1="166.1" y1="336.84" x2="172.3" y2="336.84"/>
<line x1="783.3" y1="336.84" x2="789.5" y2="336.84"/>
<line x1="166.1" y1="765.34" x2="172.3" y2="765.34"/>
<line x1="783.3" y1="765.34" x2="789.5" y2="765.34"/>
<line x1="166.1" y1="345.57" x2="172.3" y2="345.57"/>
<line x1="783.3" y1="345.57" x2="789.5" y2="345.57"/>
<line x1="166.1" y1="775.14" x2="172.3" y2="775.14"/>
<line x1="783.3" y1="775.14" x2="789.5" y2="775.14"/>
<line x1="166.1" y1="354.30" x2="178.4" y2="354.30"/>
<line x1="777.2" y1="354.30" x2="789.5" y2="354.30"/>
<line x1="166.1" y1="784.95" x2="178.4" y2="784.95"/>
<line x1="777.2" y1="784.95" x2="789.5" y2="784.95"/>
<line x1="166.1" y1="363.03" x2="172.3" y2="363.03"/>
<line x1="783.3" y1="363.03" x2="789.5" y2="363.03"/>
<line x1="166.1" y1="794.75" x2="172.3" y2="794.75"/>
<line x1="783.3" y1="794.75" x2="789.5" y2="794.75"/>
<line x1="166.1" y1="371.76" x2="172.3" y2="371.76"/>
<line x1="783.3" y1="371.76" x2="789.5" y2="371.76"/>
<line x1="166.1" y1="804.56" x2="172.3" y2="804.56"/>
<line x1="783.3" y1="804.56" x2="789.5" y2="804.56"/>
<line x1="166.1" y1="380.49" x2="172.3" y2="380.49"/>
<line x1="783.3" y1="380.49" x2="789.5" y2="380.49"/>
<line x1="166.1" y1="814.37" x2="172.3" y2="814.37"/>
<line x1="783.3" y1="814.37" x2="789.5" y2="814.37"/>
<line x1="166.1" y1="389.22" x2="172.3" y2="389.22"/>
<line x1="783.3" y1="389.22" x2="789.5" y2="389.22"/>
<line x1="166.1" y1="824.17" x2="172.3" y2="824.17"/>
<line x1="783.3" y1="824.17" x2="789.5" y2="824.17"/>
<line x1="166.1" y1="397.95" x2="172.3" y2="397.95"/>
<line x1="783.3" y1="397.95" x2="789.5" y2="397.95"/>
<line x1="166.1" y1="833.98" x2="172.3" y2="833.98"/>
<line x1="783.3" y1="833.98" x2="789.5" y2="833.98"/>
<line x1="166.1" y1="406.68" x2="172.3" y2="406.68"/>
<line x1="783.3" y1="406.68" x2="789.5" y2="406.68"/>
<line x1="166.1" y1="843.78" x2="172.3" y2="843.78"/>
<line x1="783.3" y1="843.78" x2="789.5" y2="843.78"/>
<line x1="166.1" y1="415.41" x2="172.3" y2="415.41"/>
<line x1="783.3" y1="415.41" x2="789.5" y2="415.41"/>
<line x1="166.1" y1="853.59" x2="172.3" y2="853.59"/>
<line x1="783.3" y1="853.59" x2="789.5" y2="853.59"/>
<line x1="166.1" y1="424.14" x2="172.3" y2="424.14"/>
<line x1="783.3" y1="424.14" x2="789.5" y2="424.14"/>
<line x1="166.1" y1="863.39" x2="172.3" y2="863.39"/>
<line x1="783.3" y1="863.39" x2="789.5" y2="863.39"/>
<line x1="166.1" y1="432.87" x2="172.3" y2="432.87"/>
<line x1="783.3" y1="432.87" x2="789.5" y2="432.87"/>
<line x1="166.1" y1="873.19" x2="172.3" y2="873.19"/>
<line x1="783.3" y1="873.19" x2="789.5" y2="873.19"/>
</g>
<text x="140" y="104.1" font-size="30" textLength="16.6" lengthAdjust="spacingAndGlyphs" class="n">0</text>
<text x="140" y="502.5" font-size="30" textLength="16.6" lengthAdjust="spacingAndGlyphs" class="n">0</text>
<text x="156.5" y="191.4" font-size="30" text-anchor="end" class="n">1</text>
<text x="156.5" y="600.6" font-size="30" text-anchor="end" class="n">1</text>
<text x="140" y="278.7" font-size="30" textLength="16.6" lengthAdjust="spacingAndGlyphs" class="n">2</text>
<text x="140" y="698.6" font-size="30" textLength="16.6" lengthAdjust="spacingAndGlyphs" class="n">2</text>
<text x="140" y="366.0" font-size="30" textLength="16.6" lengthAdjust="spacingAndGlyphs" class="n">3</text>
<text x="140" y="796.7" font-size="30" textLength="16.6" lengthAdjust="spacingAndGlyphs" class="n">3</text>
<text x="140" y="442.5" font-size="30" textLength="16.6" lengthAdjust="spacingAndGlyphs" class="n">4</text>
<text x="140" y="884.0" font-size="30" textLength="16.6" lengthAdjust="spacingAndGlyphs" class="n">4</text>
<text x="139.8" y="924.4" font-size="30" textLength="54.0" lengthAdjust="spacingAndGlyphs" class="n">−20</text>
<text x="243.2" y="924.4" font-size="30" textLength="54.0" lengthAdjust="spacingAndGlyphs" class="n">−10</text>
<text x="365.1" y="924.4" font-size="30" textLength="15.8" lengthAdjust="spacingAndGlyphs" class="n">0</text>
<text x="461.6" y="924.4" font-size="30" textLength="33.0" lengthAdjust="spacingAndGlyphs" class="n">10</text>
<text x="564.6" y="924.4" font-size="30" textLength="33.0" lengthAdjust="spacingAndGlyphs" class="n">20</text>
<text x="668.0" y="924.4" font-size="30" textLength="33.0" lengthAdjust="spacingAndGlyphs" class="n">30</text>
<text x="771.3" y="924.4" font-size="30" textLength="33.0" lengthAdjust="spacingAndGlyphs" class="n">40</text>
<text transform="translate(261.5,958.5) scale(1.15,1)" font-size="29.5" textLength="62.0" lengthAdjust="spacing" class="t2">Time</text>
<text transform="translate(348.3,958.5) scale(1.15,1)" font-size="29.5" textLength="69.0" lengthAdjust="spacing" class="t2">Since</text>
<text transform="translate(442.5,958.5) scale(1.15,1)" font-size="29.5" textLength="124.8" lengthAdjust="spacing" class="t2">Maximum</text>
<text transform="translate(601.9,958.5) scale(1.15,1)" font-size="29.5" textLength="79.6" lengthAdjust="spacing" class="t2">(days)</text>
<g transform="translate(117.5,319.6) rotate(-90)">
<text x="0" y="0" font-size="33.8" textLength="61.4" lengthAdjust="spacingAndGlyphs" class="b">mag</text>
<rect x="66.9" y="-10.2" width="13.8" height="2.4" fill="#000"/>
<text x="83.2" y="0" font-size="33.8" textLength="19.2" lengthAdjust="spacingAndGlyphs" class="b">V</text>
<text x="104.6" y="4.1" font-size="24.8" textLength="42.2" lengthAdjust="spacingAndGlyphs" class="b">max</text>
</g>
<g transform="translate(117.5,737.9) rotate(-90)">
<text x="0" y="0" font-size="33.8" textLength="61.4" lengthAdjust="spacingAndGlyphs" class="b">mag</text>
<rect x="66.9" y="-10.2" width="13.8" height="2.4" fill="#000"/>
<text x="85.8" y="0" font-size="33.8" textLength="21.5" lengthAdjust="spacingAndGlyphs" class="b">R</text>
<text x="106.4" y="4.1" font-size="24.8" textLength="42.2" lengthAdjust="spacingAndGlyphs" class="b">max</text>
</g>
<path d="M685.2,78.6 H702 V82.8 H696.8 L710.3,125.1 L724.2,82.8 H717.2 V78.6 H733.4 V82.8 H729.4 L711.7,136.4 H707.4 L689.3,82.8 H685.2 Z" fill="#000"/>
<path d="M 687.8,482.2 L 719.0,482.2 C 729.1,482.2 735.4,488.1 735.4,497.3 C 735.4,504.9 730.5,509.5 722.7,511.2 C 724.9,512.8 726.1,515.9 727.5,520.9 L 730.0,531.9 C 731.2,537.8 733.4,538.1 734.7,531.9 L 738.1,532.4 C 737.1,539.5 734.5,542.2 730.0,542.2 C 724.9,542.2 723.2,538.7 721.7,532.4 L 719.0,520.9 C 717.7,515.0 714.8,512.5 710.6,512.5 L 700.8,512.5 L 700.8,538.1 L 706.9,538.1 L 706.9,542.0 L 687.8,542.0 L 687.8,538.1 L 693.7,538.1 L 693.7,486.0 L 687.8,486.0 Z M 700.8,486.0 L 716.5,486.0 C 724.9,486.0 728.1,490.6 728.1,497.3 C 728.1,504.9 724.1,508.8 716.5,508.8 L 700.8,508.8 Z" fill="#000" fill-rule="evenodd"/>
</svg>
</body></html>
